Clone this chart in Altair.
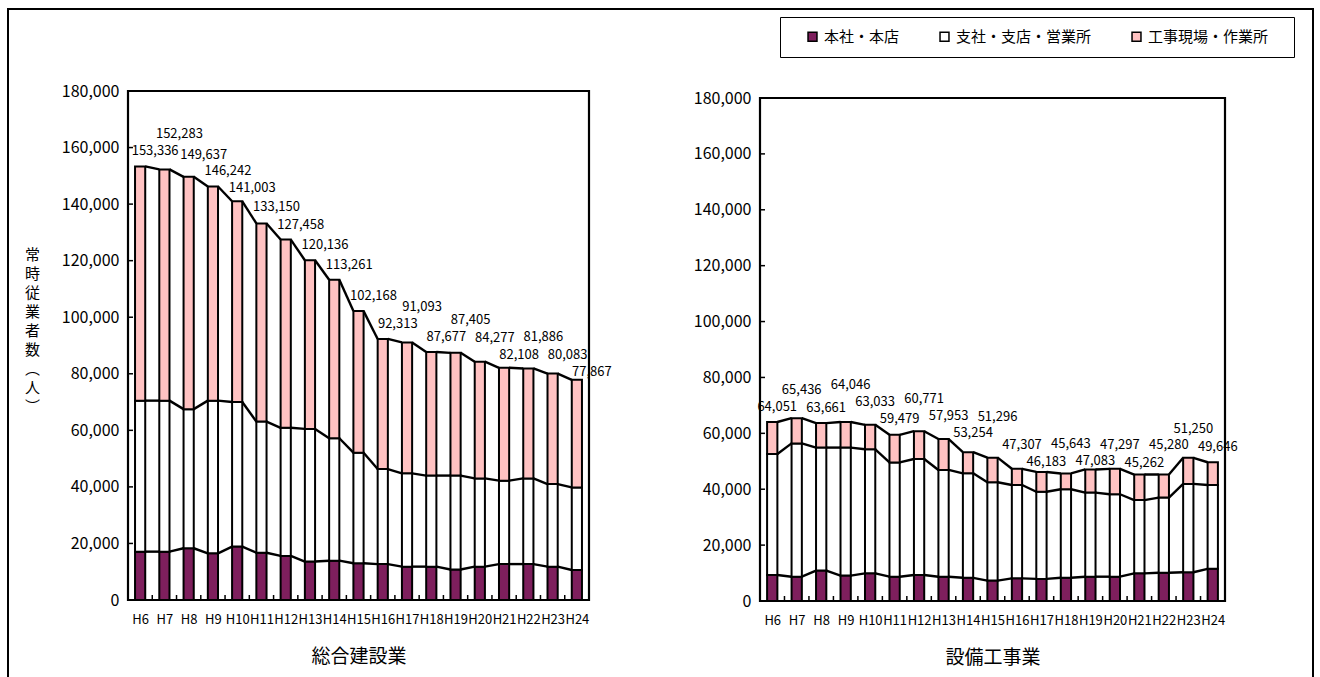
import json
import altair as alt
import pandas as pd

FONT = "Noto Sans CJK JP"

years = ["H6", "H7", "H8", "H9", "H10", "H11", "H12", "H13", "H14", "H15",
         "H16", "H17", "H18", "H19", "H20", "H21", "H22", "H23", "H24"]
segments = ["本社・本店", "支社・支店・営業所", "工事現場・作業所"]
seg_colors = ["#7E1F5D", "#FFFFFF", "#FFC2C2"]

# 総合建設業
gc_head = [17100, 17100, 18300, 16500, 18900, 16700, 15600, 13600, 13900, 13000,
           12700, 11800, 11800, 10800, 11800, 12700, 12700, 11800, 10600]
gc_branch = [53400, 53400, 49200, 54000, 51100, 46400, 45300, 46900, 43300, 39100,
             33600, 33000, 32200, 33200, 31200, 29500, 30300, 29200, 29200]
gc_site = [82836, 81783, 82137, 75742, 71003, 70050, 66558, 59636, 56061, 50068,
           46013, 46293, 43677, 43405, 41277, 39908, 38886, 39083, 38067]
gc_total = [153336, 152283, 149637, 146242, 141003, 133150, 127458, 120136, 113261, 102168,
            92313, 91093, 87677, 87405, 84277, 82108, 81886, 80083, 77867]

# 設備工事業
eq_head = [9300, 8700, 10900, 9100, 9900, 8700, 9300, 8700, 8300, 7300,
           8100, 7900, 8300, 8700, 8700, 9900, 10100, 10300, 11500]
eq_branch = [43300, 47700, 44000, 45800, 44400, 40900, 41500, 38200, 37400, 35200,
             33400, 31200, 31700, 30100, 29500, 26200, 26900, 31600, 30000]
eq_site = [11451, 9036, 8761, 9146, 8733, 9879, 9971, 11053, 7554, 8796,
           5807, 7083, 5643, 8283, 9097, 9162, 8280, 9350, 8146]
eq_total = [64051, 65436, 63661, 64046, 63033, 59479, 60771, 57953, 53254, 51296,
            47307, 46183, 45643, 47083, 47297, 45262, 45280, 51250, 49646]

YMAX = 180000
ytick_values = list(range(0, YMAX + 1, 20000))
y_title_chars = ["常", "時", "従", "業", "者", "数", "︵", "人", "︶"]

BAR_HALF = 0.21
LABEL_W2 = 24.0     # half width of a value label, px
LABEL_H = 16.5      # min vertical gap between neighbouring labels, px
PREF_DY = -15


def place_labels(total, width, height, top_px, dx_px):
    """Pick a vertical offset per label so that neighbours and the stack top do not collide."""
    n = len(total)
    step = width / n
    span = height - top_px
    top = [height - t * span / YMAX for t in total]

    def topline(xu):
        for i in range(n):
            if i - BAR_HALF <= xu <= i + BAR_HALF:
                return top[i]
            if i < n - 1 and i + BAR_HALF < xu < i + 1 - BAR_HALF:
                f = (xu - (i + BAR_HALF)) / (1 - 2 * BAR_HALF)
                return top[i] + f * (top[i + 1] - top[i])
        return float("inf")

    cands = list(range(-6, -46, -1))
    feas = []
    for i in range(n):
        c = i + dx_px / step
        lim = min(topline(c + k * (LABEL_W2 / step) / 10) for k in range(-10, 11))
        ok = [top[i] + d for d in cands if top[i] + d + 6 <= lim]
        feas.append(ok or [top[i] + d for d in cands])
    best = [{y: (abs(y - top[0] - PREF_DY), None) for y in feas[0]}]
    for i in range(1, n):
        cur = {}
        for y in feas[i]:
            opts = [(cost + abs(y - top[i] - PREF_DY), py) for py, (cost, _) in best[-1].items()
                    if abs(y - py) >= LABEL_H]
            if not opts:
                opts = [(cost + 1000 + abs(y - top[i] - PREF_DY), py)
                        for py, (cost, _) in best[-1].items()]
            cur[y] = min(opts)
        best.append(cur)
    y = min(best[-1], key=lambda k: best[-1][k][0])
    ys = [y]
    for i in range(n - 1, 0, -1):
        y = best[i][y][1]
        ys.append(y)
    ys.reverse()
    return [(height - yy) * YMAX / span for yy in ys]


def panel(head, branch, site, total, width, height, top_px, title, label_dx, with_y_title,
          with_outer):
    n = len(years)
    bar_rows = []
    for i in range(n):
        lo = 0
        for seg, vals in zip(segments, (head, branch, site)):
            bar_rows.append({"xa": i - BAR_HALF, "xb": i + BAR_HALF, "seg": seg,
                             "ya": lo, "yb": lo + vals[i]})
            lo += vals[i]
    bars_df = pd.DataFrame(bar_rows)

    levels = []
    acc = [0] * n
    for vals in (head, branch, site):
        acc = [a + v for a, v in zip(acc, vals)]
        levels.append(acc)
    line_rows = []
    for lev in levels:
        for i in range(n - 1):
            line_rows.append({"xa": i + BAR_HALF, "xb": i + 1 - BAR_HALF,
                              "ya": lev[i], "yb": lev[i + 1]})
    lines_df = pd.DataFrame(line_rows)

    label_df = pd.DataFrame({"xa": list(range(n)), "total": total,
                             "ya": place_labels(total, width, height, top_px, label_dx)})
    xtick_df = pd.DataFrame({"xa": [i + 0.5 for i in range(n - 1)]})
    ytick_df = pd.DataFrame({"ya": ytick_values[1:-1]})
    frame_df = pd.DataFrame({"xa": [-0.5], "xb": [n - 0.5], "ya": [0], "yb": [YMAX]})

    xscale = alt.Scale(domain=[-0.5, n - 0.5], nice=False, zero=False)
    yscale = alt.Scale(domain=[0, YMAX], nice=False, range=[height, top_px])
    x_axis = alt.Axis(values=list(range(n)), labelExpr=f"{json.dumps(years)}[datum.value]",
                      ticks=False, domain=False, grid=False, labelFontSize=13,
                      labelPadding=13, labelFlush=False, labelOverlap=False,
                      title=title, titleFontSize=19, titleFontWeight="normal",
                      titlePadding=21)
    common_y = dict(values=ytick_values, labelExpr="format(datum.value, ',')",
                    ticks=False, domain=False, grid=False, labelFontSize=16,
                    labelPadding=9, labelFlush=False, labelOverlap=False)
    if with_y_title:
        y_axis = alt.Axis(title=y_title_chars, titleAngle=0, titleX=-96, titleY=156,
                          titleBaseline="top", titleAlign="center", titleFontSize=15,
                          titleLineHeight=19, titleFontWeight="normal", **common_y)
    else:
        y_axis = alt.Axis(title=None, **common_y)

    X = lambda f: alt.X(f, scale=xscale, axis=x_axis)
    Y = lambda f: alt.Y(f, scale=yscale, axis=y_axis)

    legend = alt.Legend(orient="none", legendX=652, legendY=-74, direction="horizontal",
                        columns=3, title="　", titleOrient="right", titlePadding=14,
                        titleFontSize=14, strokeColor="black", padding=12,
                        symbolType="square", symbolSize=80, symbolStrokeColor="black",
                        symbolStrokeWidth=1.5, labelFontSize=15, labelFont=FONT,
                        columnPadding=24, symbolOffset=13, labelOffset=4)

    bars = alt.Chart(bars_df).mark_bar(stroke="black", strokeWidth=2).encode(
        x=X("xa:Q"), x2="xb", y=Y("ya:Q"), y2="yb",
        fill=alt.Fill("seg:N", scale=alt.Scale(domain=segments, range=seg_colors),
                      legend=legend, sort=segments),
    )
    lines = alt.Chart(lines_df).mark_rule(color="black", strokeWidth=2.4).encode(
        x=X("xa:Q"), x2="xb", y=Y("ya:Q"), y2="yb")
    labels = alt.Chart(label_df).mark_text(font=FONT, fontSize=13, dx=label_dx,
                                           align="center", baseline="middle",
                                           color="black").encode(
        x=X("xa:Q"), y=Y("ya:Q"), text=alt.Text("total:Q", format=","))
    xticks = alt.Chart(xtick_df).mark_rule(color="black", strokeWidth=1.5).encode(
        x=X("xa:Q"), y=alt.value(height), y2=alt.value(height - 5))
    yticks = alt.Chart(ytick_df).mark_rule(color="black", strokeWidth=1.5).encode(
        y=Y("ya:Q"), x=alt.value(0), x2=alt.value(5))
    frame = alt.Chart(frame_df).mark_rect(fill="white", fillOpacity=0, stroke="black",
                                          strokeWidth=2.2).encode(
        x=X("xa:Q"), x2="xb", y=Y("ya:Q"), y2="yb")

    layers = [bars, lines, xticks, yticks, frame, labels]
    if with_outer:
        outer = alt.Chart(pd.DataFrame({"k": [0]})).mark_rect(
            fill="white", fillOpacity=0, stroke="black", strokeWidth=2).encode(
            x=alt.value(-120), x2=alt.value(1185), y=alt.value(-82), y2=alt.value(640))
        layers.append(outer)
    return alt.layer(*layers).properties(width=width, height=height)


left = panel(gc_head, gc_branch, gc_site, gc_total, 461, 509, 0, "総合建設業", 15, True, True)
right = panel(eq_head, eq_branch, eq_site, eq_total, 465, 510, 7, "設備工事業", 5, False, False)

chart = alt.hconcat(left, right, spacing=171, bounds="flush").resolve_scale(
    fill="shared").properties(
    padding={"left": 7, "top": 8, "right": 5, "bottom": 0},
    autosize=alt.AutoSizeParams(type="pad"),
    background="white",
).configure_view(strokeWidth=0).configure_axis(
    labelFont=FONT, titleFont=FONT, labelColor="black", titleColor="black"
).configure_legend(labelColor="black")

chart.save("out.html", embed_options={"renderer": "svg", "actions": False})
